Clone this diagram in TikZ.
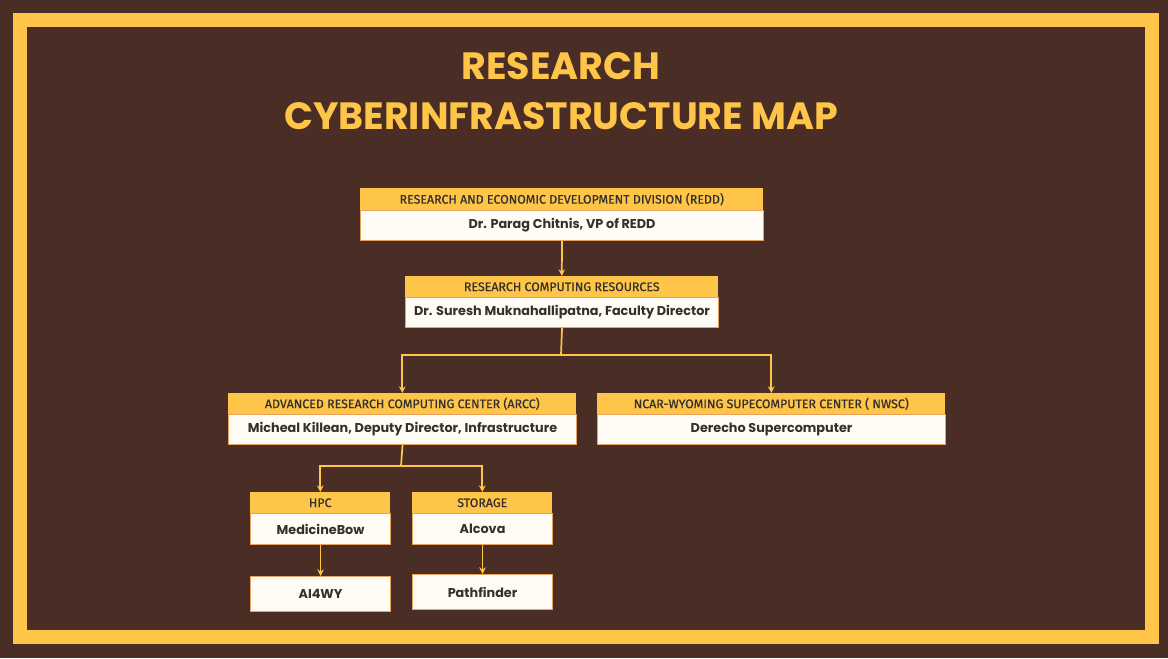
\documentclass[tikz,border=0pt]{standalone}
\usepackage{fontspec}
\setmainfont{Poppins}
\newfontfamily\hdfont[FakeBold=0.6]{Fira Sans}
\usetikzlibrary{arrows.meta}
\definecolor{bgc}{HTML}{4A2D25}
\definecolor{yel}{HTML}{FFC548}
\definecolor{boxf}{HTML}{FFFCF6}
\definecolor{bord}{HTML}{E9A25E}
\definecolor{txt}{HTML}{33302E}
\tikzset{
 hdr/.style={fill=yel,draw=none,inner sep=0pt,font=\hdfont\fontsize{9.3}{10}\selectfont,text=txt},
 bdy/.style={fill=boxf,draw=bord,line width=0.8pt,inner sep=0pt,font=\bfseries\fontsize{9.6}{11}\selectfont,text=txt},
 conn/.style={draw=yel,line width=1.3pt,-{Stealth[length=5pt,width=5pt]}},
 line/.style={draw=yel,line width=1.3pt}
}
\newcommand{\cbox}[8]{% name x1 x2 hy1 hy2 by2 header body
 \node[hdr,minimum width={(#3-#2)*0.75pt},minimum height={(#5-#4)*0.75pt},anchor=north west] (#1h) at (#2,#4) {#7};
 \node[bdy,minimum width={(#3-#2)*0.75pt},minimum height={(#6-#5)*0.75pt},anchor=north west] (#1) at (#2,#5) {#8};
}
\begin{document}
\begin{tikzpicture}[x=0.75pt,y=-0.75pt]
\useasboundingbox (0,0) rectangle (1168,658);
\fill[bgc] (0,0) rectangle (1168,658);
\draw[yel,line width=10.5pt] (20,20) rectangle (1151.5,636.5);
\node[text=yel,font=\bfseries\fontsize{28.5}{37}\selectfont,align=center] (title) at (561,91) {RESEARCH\\CYBERINFRASTRUCTURE MAP};
\cbox{redd}{360}{763}{188}{210}{240}{RESEARCH AND ECONOMIC DEVELOPMENT DIVISION (REDD)}{Dr. Parag Chitnis, VP of REDD}
\cbox{rcr}{405}{718}{276}{297}{327}{RESEARCH COMPUTING RESOURCES}{Dr. Suresh Muknahallipatna, Faculty Director}
\cbox{arcc}{228}{576}{393}{414}{444}{ADVANCED RESEARCH COMPUTING CENTER (ARCC)}{Micheal Killean, Deputy Director, Infrastructure}
\cbox{nwsc}{597}{945}{393}{414}{444}{NCAR-WYOMING SUPECOMPUTER CENTER ( NWSC)}{Derecho Supercomputer}
\cbox{hpc}{250}{390}{492}{513}{544}{HPC}{MedicineBow}
\cbox{sto}{412}{552}{492}{513}{544}{STORAGE}{Alcova}
\node[bdy,minimum width=105pt,minimum height=26.25pt,anchor=north west] (ai) at (250,576) {AI4WY};
\node[bdy,minimum width=105pt,minimum height=26.25pt,anchor=north west] (pf) at (412,574) {Pathfinder};
\draw[conn] (redd.south) -- (rcrh.north);
\coordinate (j1) at (561,355);
\coordinate (j2) at (401,466);
\draw[line] (rcr.south) -- (j1);
\draw[conn] (j1) -| (arcch.north);
\draw[conn] (j1) -| (nwsch.north);
\draw[line] (arcc.south) -- (j2);
\draw[conn] (j2) -| (hpch.north);
\draw[conn] (j2) -| (stoh.north);
\draw[conn] (hpc.south) -- (ai.north);
\draw[conn] (sto.south) -- (pf.north);
\end{tikzpicture}
\end{document}
